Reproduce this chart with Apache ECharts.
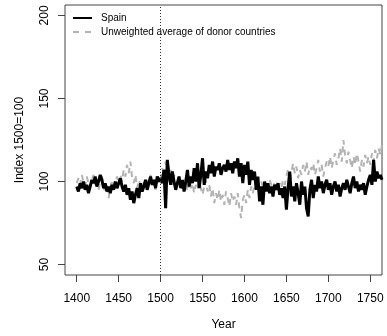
<!DOCTYPE html>
<html>
<head>
<meta charset="utf-8">
<script src="https://cdn.jsdelivr.net/npm/echarts@6/dist/echarts.min.js"></script>
<style>
  html, body { margin: 0; padding: 0; background: #fff; }
  #chart { width: 387px; height: 336px; }
</style>
</head>
<body>
<div id="chart"></div>
<script>
// one value every 2 years, starting 1400
const startYear = 1400;
const yearStep = 2;
const spain = [
  97, 94, 99, 96, 100,   95, 98, 93, 97, 101,   99, 103, 97, 100, 104,
  101, 96, 99, 94, 97,   93, 98, 95, 100, 96,   99, 102, 97, 94, 98,
  92, 96, 89, 94, 87,    92, 96, 90, 99, 94,    97, 101, 95, 99, 103,
  98, 101, 96, 103, 100, 102, 99, 107, 84, 113, 104, 98, 106, 100, 95,
  99, 103, 96, 101, 94,  100, 107, 97, 103, 99, 108, 100, 111, 96, 104,
  114, 98, 106, 102, 110, 105, 112, 103, 109, 107, 111, 104, 108, 110, 106,
  113, 107, 111, 105, 112, 108, 114, 103, 111, 99, 110, 104, 112, 98, 107,
  101, 106, 95, 103, 88, 97, 86, 100, 94, 99,  93, 97, 91, 98, 95,
  99, 92, 96, 90, 97,    83, 96, 106, 91, 97,   88, 99, 93, 86, 100,
  92, 97, 84, 79, 95,    101, 90, 98, 94, 103,  96, 100, 93, 98, 101,
  95, 99, 92, 97, 100,   94, 98, 91, 96, 99,    95, 101, 97, 93, 99,
  103, 96, 100, 94, 98,  95, 99, 92, 97, 101,   104, 98, 113, 100, 106,
  102, 104, 101
];
const donors = [
  99, 102, 98, 104, 100, 97, 103, 99, 96, 101,  104, 98, 102, 95, 100,
  103, 97, 93, 99, 90,   96, 101, 94, 99, 103,   98, 104, 100, 107, 103,
  110, 105, 112, 102, 99, 104, 96, 101, 98, 95, 100, 97, 102, 99, 104,
  98, 101, 95, 99, 102,  100, 108, 103, 112, 105, 100, 107, 98, 104, 101,
  97, 103, 99, 95, 101,  98, 94, 100, 96, 99,   93, 98, 95, 100, 96,
  92, 97, 101, 94, 98,   91, 96, 87, 93, 89,    95, 88, 92, 86, 94,
  90, 85, 93, 88, 91,    86, 93, 84, 78, 89,    92, 87, 95, 90, 97,
  93, 98, 95, 99, 96,    100, 97, 94, 99, 96,   101, 98, 95, 100, 97,
  94, 99, 96, 101, 98,   103, 108, 100, 106, 111, 105, 109, 102, 107, 104,
  110, 106, 112, 104, 109, 107, 111, 104, 108, 113, 106, 110, 103, 108, 112,
  109, 115, 108, 113, 117, 110, 114, 120, 112, 125, 116, 111, 118, 113, 108,
  115, 110, 117, 112, 106, 113, 109, 116, 111, 115, 110, 117, 112, 119, 114,
  120, 116, 122
];
const xTicks = [1400, 1450, 1500, 1550, 1600, 1650, 1700, 1750];
const yTicks = [50, 100, 150, 200];
const baseYear = 1500;

const toPairs = vals => vals.map((v, i) => [startYear + i * yearStep, v]);

const font = 'Liberation Sans, Arial, Helvetica, sans-serif';
const chart = echarts.init(document.getElementById('chart'));

chart.setOption({
  animation: false,
  grid: {
    left: 65, right: 5, top: 5, bottom: 57,
    show: true, borderColor: '#444', borderWidth: 1
  },
  xAxis: {
    type: 'value',
    min: 1386, max: 1764,
    name: 'Year',
    nameLocation: 'middle',
    nameGap: 44,
    nameTextStyle: { fontFamily: font, fontSize: 12, color: '#000' },
    splitLine: { show: false },
    axisLine: { show: false },
    axisTick: { show: true, length: 7, lineStyle: { color: '#444' }, customValues: xTicks },
    axisLabel: {
      fontFamily: font, fontSize: 12, color: '#000', margin: 18,
      customValues: xTicks,
      formatter: v => String(v)
    }
  },
  yAxis: {
    type: 'value',
    min: 43.7, max: 206.3,
    name: 'Index 1500=100',
    nameLocation: 'middle',
    nameRotate: 90,
    nameGap: 39,
    nameTextStyle: { fontFamily: font, fontSize: 12, color: '#000' },
    splitLine: { show: false },
    axisLine: { show: false },
    axisTick: { show: true, length: 7, lineStyle: { color: '#444' }, customValues: yTicks },
    axisLabel: { fontFamily: font, fontSize: 12, color: '#000', margin: 14, rotate: 90, customValues: yTicks }
  },
  series: [
    {
      name: 'Unweighted average of donor countries',
      type: 'line',
      data: toPairs(donors),
      showSymbol: false,
      lineStyle: { color: '#b3b3b3', width: 2, type: [6, 5] },
      z: 2
    },
    {
      name: 'Spain',
      type: 'line',
      data: toPairs(spain),
      showSymbol: false,
      lineStyle: { color: '#000', width: 3 },
      z: 3,
      markLine: {
        silent: true,
        symbol: 'none',
        label: { show: false },
        lineStyle: { color: '#333', width: 1, type: [1, 2] },
        data: [{ xAxis: baseYear }]
      }
    }
  ],
  graphic: [
    { type: 'line', shape: { x1: 73, y1: 18, x2: 92, y2: 18 }, style: { stroke: '#000', lineWidth: 2 } },
    { type: 'text', left: 101, top: 13, style: { text: 'Spain', font: '10px ' + font, fill: '#000' } },
    { type: 'line', shape: { x1: 73, y1: 32, x2: 92, y2: 32 }, style: { stroke: '#b3b3b3', lineWidth: 2, lineDash: [6, 6] } },
    { type: 'text', left: 101, top: 27, style: { text: 'Unweighted average of donor countries', font: '10px ' + font, fill: '#000' } }
  ]
});
</script>
</body>
</html>
